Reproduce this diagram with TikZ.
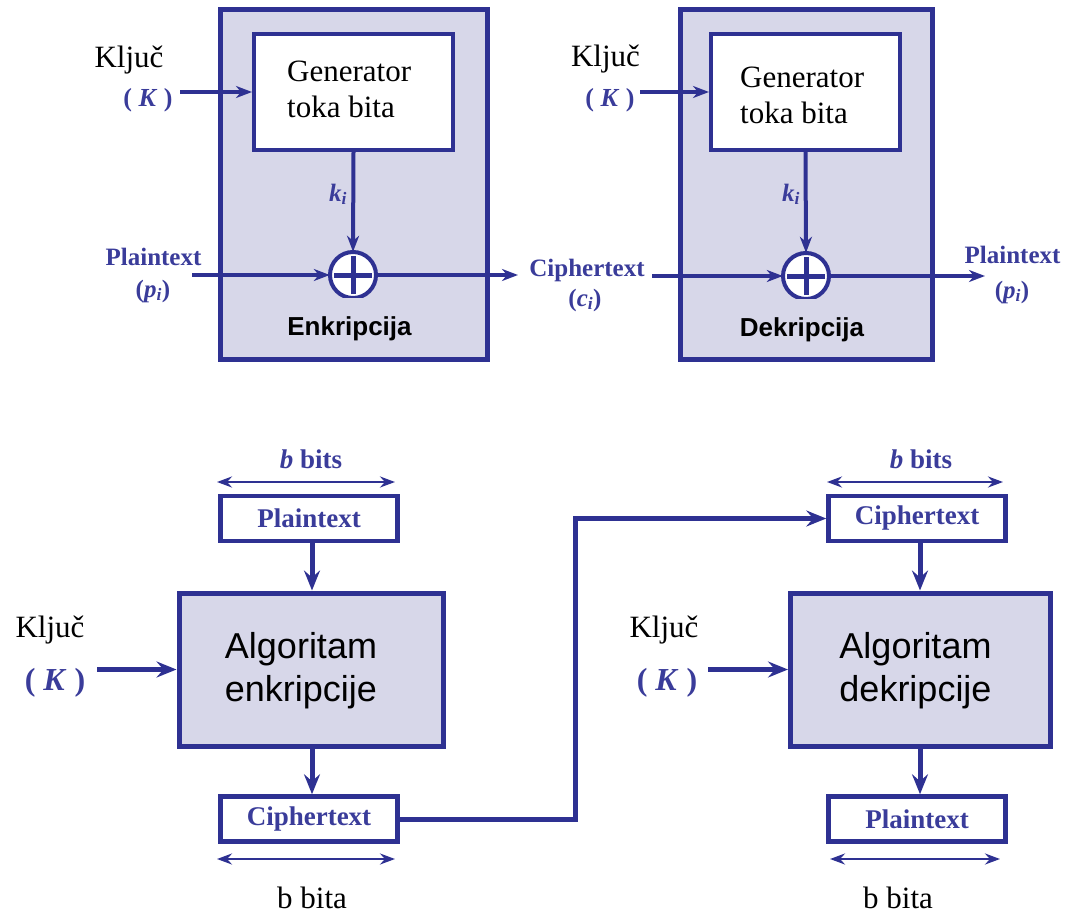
\documentclass[tikz,border=0pt]{standalone}
\usepackage{fontspec}
\setmainfont{Liberation Serif}
\setsansfont{Liberation Sans}
\usetikzlibrary{arrows.meta}
\definecolor{ink}{RGB}{46,49,146}
\definecolor{lav}{RGB}{215,215,233}
\definecolor{labelblue}{RGB}{58,60,154}

\begin{document}
\begin{tikzpicture}[x=1pt,y=-1pt,
  unit/.style={draw=ink, line width=5pt, fill=lav, inner sep=0pt},
  genbox/.style={draw=ink, line width=4pt, fill=white, inner sep=0pt, minimum width=199pt, minimum height=116pt},
  xorc/.style={circle, minimum size=46pt, inner sep=0pt},
  flow/.style={draw=ink, line width=4pt, -{Stealth[length=16pt,width=12pt,inset=5pt]}},
  bigflow/.style={draw=ink, line width=5pt, -{Stealth[length=20pt,width=16pt,inset=7pt]}},
  span/.style={draw=ink, line width=2.5pt, {Stealth[length=15pt,width=11pt,inset=5pt]}-{Stealth[length=15pt,width=11pt,inset=5pt]}},
  blk/.style={draw=ink, line width=4.5pt, fill=white, minimum width=177pt, minimum height=45pt, inner sep=0pt, text=labelblue, font=\fontsize{27}{30}\selectfont\bfseries},
  alg/.style={draw=ink, line width=5pt, fill=lav, minimum height=153pt, inner sep=0pt},
  algtext/.style={inner sep=0pt, align=center, font=\sffamily\fontsize{36}{43}\selectfont},
  plain/.style={anchor=base, inner sep=0pt, font=\fontsize{31}{36}\selectfont},
  tag/.style={anchor=base, inner sep=0pt, text=labelblue, font=\fontsize{25}{30}\selectfont\bfseries},
  caption/.style={anchor=base, inner sep=0pt, font=\sffamily\bfseries\fontsize{26}{30}\selectfont},
  gentext/.style={anchor=west, inner sep=0pt, align=left, font=\fontsize{31}{36}\selectfont}
]
\useasboundingbox (0,0) rectangle (1090,915);

% ---------- stream cipher: encryption unit ----------
\node[unit, minimum width=267pt, minimum height=349pt] (enc) at (353.5,184.5) {};
\node[genbox] (gen1) at (353.5,92) {};
\node[gentext] (gen1txt) at (287,89.5) {Generator\\toka bita};
\node[xorc] (x1) at (353,275) {};
\begin{scope}
  \clip (320,240) rectangle (390,297);
  \draw[ink, line width=4pt, fill=white] (x1.center) circle (23pt);
\end{scope}
\draw[ink, line width=5pt] ([xshift=-19pt]x1.center) -- ([xshift=19pt]x1.center)
                           ([yshift=-19pt]x1.center) -- ([yshift=19pt]x1.center);
\node[caption] (enclbl) at (349.5,335) {Enkripcija};

\node[plain] (key1) at (129,68) {Ključ};
\node[tag, font=\fontsize{26}{30}\selectfont\bfseries] (K1) at (148,107) {( \textit{K} )};
\node[tag] (k1) at (338,201) {\textit{k}\textsubscript{\textit{i}}};
\node[tag] (pt1) at (153.5,265) {Plaintext};
\node[tag] (pi1) at (153,297) {(\textit{p}\textsubscript{\textit{i}})};
\node[tag] (ct1) at (587,276) {Ciphertext};
\node[tag] (ci1) at (585,306) {(\textit{c}\textsubscript{\textit{i}})};

\coordinate (key1in) at (180,92);
\coordinate (pt1in) at (192,275);
\coordinate (ct1out) at (518,275);
\draw[flow] (key1in) -- (gen1.west);
\draw[flow] (gen1.south) -- (x1.north);
\draw[flow] (pt1in) -- (x1.west);
\draw[flow] (x1.east) -- (ct1out);

% ---------- stream cipher: decryption unit ----------
\node[unit, minimum width=252pt, minimum height=349pt] (dec) at (806,184.5) {};
\node[genbox, minimum width=189pt] (gen2) at (805.5,92) {};
\node[gentext] (gen2txt) at (740,95.5) {Generator\\toka bita};
\node[xorc] (x2) at (806,276) {};
\begin{scope}
  \clip (770,240) rectangle (840,298);
  \draw[ink, line width=4pt, fill=white] (x2.center) circle (23pt);
\end{scope}
\draw[ink, line width=5pt] ([xshift=-19pt]x2.center) -- ([xshift=19pt]x2.center)
                           ([yshift=-19pt]x2.center) -- ([yshift=19pt]x2.center);
\node[caption] (declbl) at (802,336) {Dekripcija};

\node[plain] (key2) at (605.5,67) {Ključ};
\node[tag, font=\fontsize{26}{30}\selectfont\bfseries] (K2) at (610,107) {( \textit{K} )};
\node[tag] (k2) at (791,201) {\textit{k}\textsubscript{\textit{i}}};
\node[tag] (pt2) at (1012.5,263) {Plaintext};
\node[tag] (pi2) at (1012,298) {(\textit{p}\textsubscript{\textit{i}})};

\coordinate (key2in) at (640,92);
\coordinate (ct2in) at (652,276);
\coordinate (pt2out) at (985,276);
\draw[flow] (key2in) -- (gen2.west);
\draw[flow] (gen2.south) -- (x2.north);
\draw[flow] (ct2in) -- (x2.west);
\draw[flow] (x2.east) -- (pt2out);

% ---------- block cipher: encryption ----------
\node[tag, font=\fontsize{27}{30}\selectfont\bfseries] (bits1) at (311,468) {\textit{b} bits};
\coordinate (s1a) at (217,482); \coordinate (s1b) at (395,482);
\draw[span] (s1a) -- (s1b);
\node[blk] (ptb1) at (309,518.5) {Plaintext};
\node[alg, minimum width=264pt] (alg1) at (311,669.5) {};
\node[algtext] (alg1txt) at (301,671) {Algoritam\\enkripcije};
\node[blk] (ctb1) at (309,819) {Ciphertext};
\coordinate (s2a) at (217,859); \coordinate (s2b) at (395,859);
\draw[span] (s2a) -- (s2b);
\node[plain] (bita1) at (312,908) {b bita};

\node[plain] (key3) at (50,637) {Ključ};
\node[tag, font=\fontsize{32}{36}\selectfont\bfseries] (K3) at (55,690) {( \textit{K} )};
\coordinate (key3in) at (97,669.5);
\draw[bigflow] (key3in) -- (alg1.west);
\draw[bigflow] (ptb1.south -| 312,0) -- (alg1.north -| 312,0);
\draw[bigflow] (alg1.south -| 312,0) -- (ctb1.north -| 312,0);

% ---------- block cipher: decryption ----------
\node[tag, font=\fontsize{27}{30}\selectfont\bfseries] (bits2) at (921,468) {\textit{b} bits};
\coordinate (s3a) at (827,482); \coordinate (s3b) at (1003,482);
\draw[span] (s3a) -- (s3b);
\node[blk] (ctb2) at (917,518.5) {Ciphertext};
\node[alg, minimum width=260pt] (alg2) at (920.5,669.5) {};
\node[algtext] (alg2txt) at (915.5,671) {Algoritam\\dekripcije};
\node[blk] (ptb2) at (917,819) {Plaintext};
\coordinate (s4a) at (830,859); \coordinate (s4b) at (1000,859);
\draw[span] (s4a) -- (s4b);
\node[plain] (bita2) at (898,908) {b bita};

\node[plain] (key4) at (664,637) {Ključ};
\node[tag, font=\fontsize{32}{36}\selectfont\bfseries] (K4) at (667,690) {( \textit{K} )};
\coordinate (key4in) at (708,669.5);
\draw[bigflow] (key4in) -- (alg2.west);
\draw[bigflow] (ctb2.south -| 920,0) -- (alg2.north -| 920,0);
\draw[bigflow] (alg2.south -| 920,0) -- (ptb2.north -| 920,0);

% ciphertext handed from the encryptor to the decryptor
\coordinate (turn) at (575,518.5);
\draw[bigflow] (ctb1.east) -| (turn) -- (ctb2.west);
\end{tikzpicture}
\end{document}
